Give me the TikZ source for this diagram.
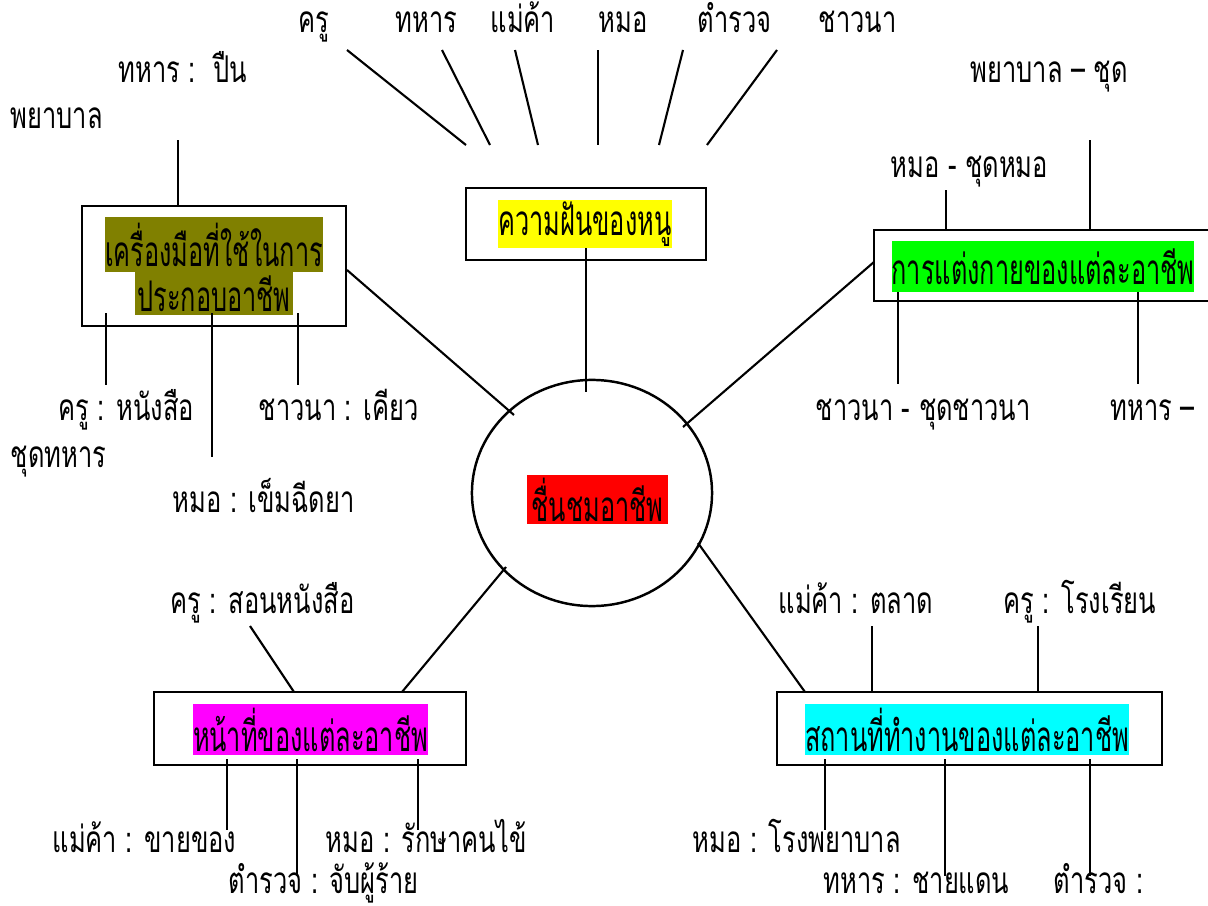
\documentclass[tikz,border=0pt]{standalone}
\usepackage{fontspec}
\usetikzlibrary{shapes.geometric}
\newfontfamily\thai[Script=Thai,FakeStretch=0.69]{Loma}
\newfontfamily\thait[Script=Thai,FakeStretch=0.60]{Loma}
\tikzset{
  lbl/.style={font=\thai\fontsize{10.5}{13}\selectfont, inner sep=0pt, anchor=base west},
  ttl/.style={font=\thait\fontsize{12}{14}\selectfont, inner sep=0pt},
  bx/.style={draw, line width=0.7pt, inner sep=0pt},
  ln/.style={line width=0.6pt},
}
\definecolor{olivebg}{HTML}{808000}
\definecolor{greenbg}{HTML}{00FF00}
\definecolor{magbg}{HTML}{FF00FF}
\definecolor{cyanbg}{HTML}{00FFFF}
\definecolor{redbg}{HTML}{FF0000}
\definecolor{yelbg}{HTML}{FFFF00}
\begin{document}
\begin{tikzpicture}[x=0.01cm,y=-0.01cm]
\useasboundingbox (0,0) rectangle (1208,906);
\clip (0,0) rectangle (1208,906);
% boxes
\node[bx, minimum width=2.40cm, minimum height=0.72cm] (dream) at (586,224) {};
\node[ttl, fill=yelbg, minimum width=1.74cm, minimum height=0.48cm] (dreamT) at (585,224) {ความฝันของหนู};
\node[bx, minimum width=2.64cm, minimum height=1.20cm] (tool) at (214,266) {};
\node[ttl, fill=olivebg, minimum width=2.16cm, minimum height=0.55cm] (toolA) at (214,244.5) {เครื่องมือที่ใช้ในการ};
\node[ttl, fill=olivebg, minimum width=1.58cm, minimum height=0.43cm] (toolB) at (214,293.5) {ประกอบอาชีพ};
\node[bx, minimum width=3.46cm, minimum height=0.71cm] (dress) at (1047,265.5) {};
\node[ttl, fill=greenbg, minimum width=2.94cm, minimum height=0.51cm] (dressT) at (1043,266.5) {การแต่งกายของแต่ละอาชีพ};
\node[bx, minimum width=3.12cm, minimum height=0.73cm] (duty) at (310,728.5) {};
\node[ttl, fill=magbg, minimum width=2.35cm, minimum height=0.51cm] (dutyT) at (310.5,729.5) {หน้าที่ของแต่ละอาชีพ};
\node[bx, minimum width=3.85cm, minimum height=0.73cm] (place) at (969.5,728.5) {};
\node[ttl, fill=cyanbg, minimum width=3.18cm, minimum height=0.51cm] (placeT) at (967,729.5) {สถานที่ทำงานของแต่ละอาชีพ};
\node[draw, ellipse, line width=0.7pt, minimum width=2.40cm, minimum height=2.26cm, inner sep=0pt] (hub) at (592,493) {};
\node[ttl, fill=redbg, minimum width=1.41cm, minimum height=0.49cm] (hubT) at (597.5,499.5) {ชื่นชมอาชีพ};
% labels
\node[lbl] (k1) at (298,32) {ครู};
\node[lbl] (k2) at (395,32) {ทหาร};
\node[lbl] (k3) at (490,32) {แม่ค้า};
\node[lbl] (k4) at (598,32) {หมอ};
\node[lbl] (k5) at (697,32) {ตำรวจ};
\node[lbl] (k6) at (818,32) {ชาวนา};
\node[lbl] (g1) at (118,82) {ทหาร :~~ปืน};
\node[lbl] (g2) at (10,129) {พยาบาล};
\node[lbl] (g3) at (58,420) {ครู : หนังสือ};
\node[lbl] (g4) at (10,467) {ชุดทหาร};
\node[lbl] (g5) at (258,420) {ชาวนา : เคียว};
\node[lbl] (g6) at (172,512) {หมอ : เข็มฉีดยา};
\node[lbl] (d1) at (970,82) {พยาบาล – ชุด};
\node[lbl] (d2) at (890,177) {หมอ - ชุดหมอ};
\node[lbl] (d3) at (815,420) {ชาวนา - ชุดชาวนา};
\node[lbl] (d4) at (1110,420) {ทหาร –};
\node[lbl] (u1) at (170,613) {ครู : สอนหนังสือ};
\node[lbl] (u2) at (52,852) {แม่ค้า : ขายของ};
\node[lbl] (u3) at (228,893) {ตำรวจ : จับผู้ร้าย};
\node[lbl] (u4) at (325,852) {หมอ : รักษาคนไข้};
\node[lbl] (p1) at (778,613) {แม่ค้า : ตลาด};
\node[lbl] (p2) at (1003,613) {ครู : โรงเรียน};
\node[lbl] (p3) at (692,852) {หมอ : โรงพยาบาล};
\node[lbl] (p4) at (823,893) {ทหาร : ชายแดน};
\node[lbl] (p5) at (1053,893) {ตำรวจ :};
% connector end points
\coordinate (a1) at (347,50); \coordinate (b1) at (466,145);
\coordinate (a2) at (442,50); \coordinate (b2) at (490,145);
\coordinate (a3) at (515,50); \coordinate (b3) at (538,145);
\coordinate (a4) at (598,50); \coordinate (b4) at (598,145);
\coordinate (a5) at (683,50); \coordinate (b5) at (659,145);
\coordinate (a6) at (777,50); \coordinate (b6) at (707,145);
\coordinate (dreamB) at (586,248); \coordinate (hubTop) at (586,392);
\coordinate (toolR) at (347,270); \coordinate (hubUL) at (514,415);
\coordinate (dressL) at (874,262); \coordinate (hubUR) at (683,427);
\coordinate (hubLL) at (506,567); \coordinate (dutyTop) at (402,692);
\coordinate (hubLR) at (698,543); \coordinate (placeTop) at (805,692);
\coordinate (c1) at (178,140); \coordinate (c1b) at (178,206);
\coordinate (c2) at (106,313); \coordinate (c2b) at (106,385);
\coordinate (c3) at (212,313); \coordinate (c3b) at (212,457);
\coordinate (c4) at (298,313); \coordinate (c4b) at (298,385);
\coordinate (e1) at (946,190); \coordinate (e1b) at (946,230);
\coordinate (e2) at (1090,140); \coordinate (e2b) at (1090,230);
\coordinate (e3) at (898,292); \coordinate (e3b) at (898,384);
\coordinate (e4) at (1138,292); \coordinate (e4b) at (1138,384);
\coordinate (f1) at (250,626); \coordinate (f1b) at (294,692);
\coordinate (f2) at (227,759); \coordinate (f2b) at (227,830);
\coordinate (f3) at (297,759); \coordinate (f3b) at (297,876);
\coordinate (f4) at (418,759); \coordinate (f4b) at (418,830);
\coordinate (h1) at (872,626); \coordinate (h1b) at (872,692);
\coordinate (h2) at (1038,626); \coordinate (h2b) at (1038,692);
\coordinate (h3) at (825,759); \coordinate (h3b) at (825,830);
\coordinate (h4) at (945,759); \coordinate (h4b) at (945,876);
\coordinate (h5) at (1090,759); \coordinate (h5b) at (1090,876);
% connectors
\foreach \s/\t in {a1/b1,a2/b2,a3/b3,a4/b4,a5/b5,a6/b6,dreamB/hubTop,toolR/hubUL,dressL/hubUR,hubLL/dutyTop,hubLR/placeTop,c1/c1b,c2/c2b,c3/c3b,c4/c4b,e1/e1b,e2/e2b,e3/e3b,e4/e4b,f1/f1b,f2/f2b,f3/f3b,f4/f4b,h1/h1b,h2/h2b,h3/h3b,h4/h4b,h5/h5b}
  \draw[ln] (\s) -- (\t);
\end{tikzpicture}
\end{document}
